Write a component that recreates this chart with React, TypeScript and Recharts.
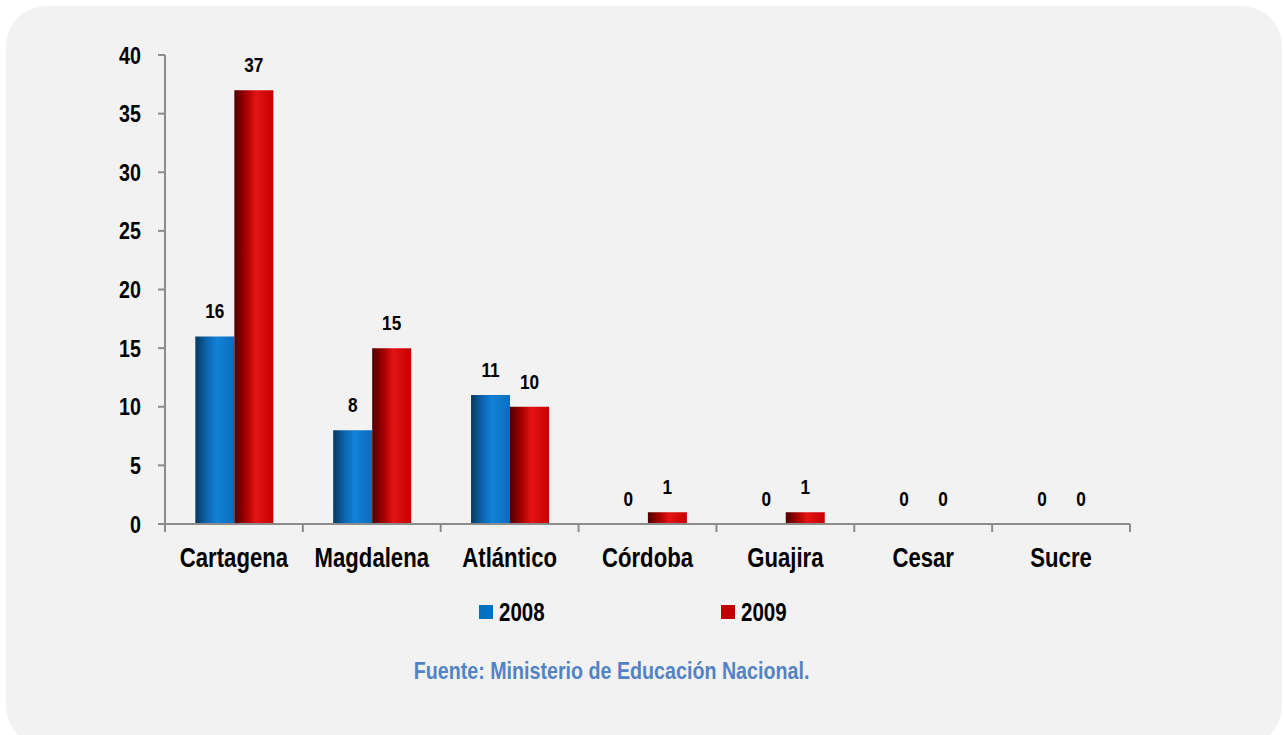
import React from 'react';
import { BarChart, Bar, XAxis, YAxis, LabelList } from 'recharts';

const categories = ['Cartagena', 'Magdalena', 'Atlántico', 'Córdoba', 'Guajira', 'Cesar', 'Sucre'];
const values2008 = [16, 8, 11, 0, 0, 0, 0];
const values2009 = [37, 15, 10, 1, 1, 0, 0];
const yTicks = [0, 5, 10, 15, 20, 25, 30, 35, 40];
const boundaryTicks = [0, 1, 2, 3, 4, 5, 6, 7];
const seriesNames = ['2008', '2009'];
const sourceText = 'Fuente: Ministerio de Educación Nacional.';

const data = categories.map((c, i) => ({ name: c, y2008: values2008[i], y2009: values2009[i], idx: i + 0.5 }));

const FONT = '"Liberation Sans", Arial, sans-serif';
const SX = 0.82;

const NarrowText = ({ x, y, size, anchor, fill = '#000', children }: any) => (
  <text
    transform={`translate(${x},${y}) scale(${SX},1)`}
    x={0}
    y={0}
    textAnchor={anchor}
    fontFamily={FONT}
    fontWeight={700}
    fontSize={size}
    fill={fill}
  >
    {children}
  </text>
);

const YTick = (props: any) => {
  const { x, y, payload } = props;
  return <NarrowText x={x} y={y + 8.5} size={24} anchor="end">{payload.value}</NarrowText>;
};

const XTick = (props: any) => {
  const { x, y, payload } = props;
  return <NarrowText x={x} y={y + 35} size={27} anchor="middle">{payload.value}</NarrowText>;
};

const ValueLabel = (props: any) => {
  const { x, y, width, value } = props;
  return <NarrowText x={x + width / 2} y={y - 18} size={21} anchor="middle">{value}</NarrowText>;
};

export default function App() {
  return (
    <div style={{ position: 'absolute', left: 0, top: 0, width: 1283, height: 735, background: '#ffffff', overflow: 'hidden' }}>
      <div style={{ position: 'absolute', left: 6, top: 6, width: 1276, height: 740, background: '#f2f2f2', borderRadius: 40 }} />
      <div style={{ position: 'absolute', left: 0, top: 0 }}>
        <BarChart
          width={1283}
          height={735}
          data={data}
          margin={{ top: 55, right: 153, left: 0, bottom: 171 }}
          barCategoryGap="22%"
          barGap={0}
        >
          <defs>
            <linearGradient id="gBlue" x1="0" y1="0" x2="1" y2="0">
              <stop offset="0%" stopColor="#08385f" />
              <stop offset="30%" stopColor="#0b66b0" />
              <stop offset="55%" stopColor="#1282d8" />
              <stop offset="100%" stopColor="#0a6cbc" />
            </linearGradient>
            <linearGradient id="gRed" x1="0" y1="0" x2="1" y2="0">
              <stop offset="0%" stopColor="#4e0000" />
              <stop offset="30%" stopColor="#a80000" />
              <stop offset="55%" stopColor="#e41414" />
              <stop offset="100%" stopColor="#c60000" />
            </linearGradient>
          </defs>
          <XAxis
            xAxisId="b"
            dataKey="name"
            axisLine={false}
            tickLine={false}
            tickSize={0}
            tickMargin={0}
            height={32}
            interval={0}
            tick={<XTick />}
          />
          <XAxis
            xAxisId="a"
            type="number"
            dataKey="idx"
            domain={[0, 7]}
            ticks={boundaryTicks}
            tick={() => <g />}
            tickSize={8}
            height={8}
            axisLine={{ stroke: '#8c8c8c', strokeWidth: 2 }}
            tickLine={{ stroke: '#8c8c8c', strokeWidth: 2 }}
          />
          <YAxis
            domain={[0, 40]}
            ticks={yTicks}
            interval={0}
            width={165}
            tickSize={7}
            tickMargin={17}
            axisLine={{ stroke: '#8c8c8c', strokeWidth: 2 }}
            tickLine={{ stroke: '#8c8c8c', strokeWidth: 2 }}
            tick={<YTick />}
          />
          <Bar xAxisId="b" dataKey="y2008" name={seriesNames[0]} fill="url(#gBlue)" minPointSize={0.01} isAnimationActive={false}>
            <LabelList dataKey="y2008" content={<ValueLabel />} />
          </Bar>
          <Bar xAxisId="b" dataKey="y2009" name={seriesNames[1]} fill="url(#gRed)" minPointSize={0.01} isAnimationActive={false}>
            <LabelList dataKey="y2009" content={<ValueLabel />} />
          </Bar>
        </BarChart>
      </div>
      <svg width={1283} height={735} style={{ position: 'absolute', left: 0, top: 0, pointerEvents: 'none' }}>
        <rect x={479} y={605} width={14} height={14} fill="#0070c0" />
        <NarrowText x={499} y={620.5} size={25} anchor="start">{seriesNames[0]}</NarrowText>
        <rect x={721} y={605} width={14} height={14} fill="#c00000" />
        <NarrowText x={741} y={620.5} size={25} anchor="start">{seriesNames[1]}</NarrowText>
        <NarrowText x={611.5} y={679} size={24} anchor="middle" fill="#5283c4">{sourceText}</NarrowText>
      </svg>
    </div>
  );
}
